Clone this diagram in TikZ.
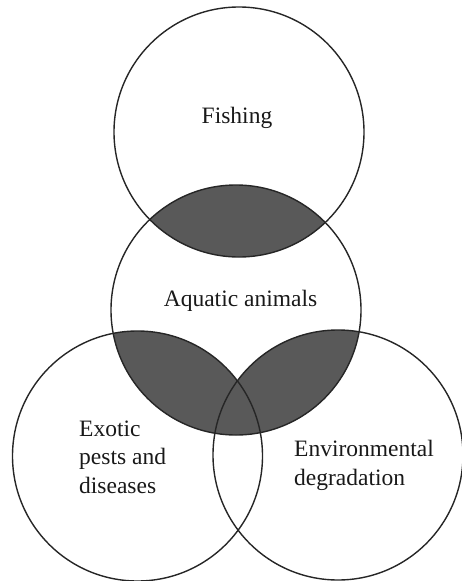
\documentclass[tikz,border=0pt]{standalone}
\usepackage{fontspec}
\setmainfont{Liberation Serif}
\tikzset{
  ring/.style={circle, draw=black!85, line width=1.4pt, minimum size=250pt, inner sep=0pt},
  lbl/.style={inner sep=0pt, font=\fontsize{23.5}{28.5}\selectfont, text=black!90},
  lens/.style={fill=black!65}
}
\begin{document}
\begin{tikzpicture}[x=1pt,y=-1pt]
\useasboundingbox (0,0) rectangle (462,581);
\coordinate (cF) at (239,132);
\coordinate (cA) at (236,310);
\coordinate (cE) at (137.5,456);
\coordinate (cD) at (338,455);
% shaded overlaps with the aquatic circle
\begin{scope}
  \clip (cA) circle (125);
  \fill[lens] (cF) circle (125);
  \fill[lens] (cE) circle (125);
  \fill[lens] (cD) circle (125);
\end{scope}
\node[ring] (F) at (cF) {};
\node[ring] (A) at (cA) {};
\node[ring] (E) at (cE) {};
\node[ring] (D) at (cD) {};
\node[lbl, anchor=base] (tF) at (237,123) {Fishing};
\node[lbl, anchor=base] (tA) at (240.5,306) {Aquatic animals};
\node[lbl, anchor=base west, align=left] (tE) at (79,493) {Exotic\\pests and\\diseases};
\node[lbl, anchor=base west, align=left] (tD) at (294,485) {Environmental\\degradation};
\end{tikzpicture}
\end{document}
